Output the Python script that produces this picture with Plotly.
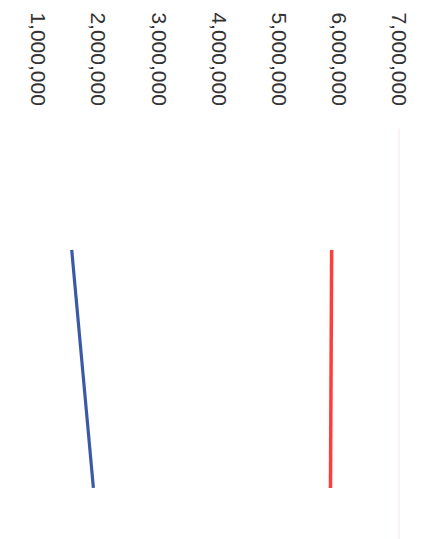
import plotly.graph_objects as go

# Data
periods = [0, 1]
series_red = [5880000, 5860000]
series_blue = [1560000, 1920000]
tick_values = [1000000, 2000000, 3000000, 4000000, 5000000, 6000000, 7000000]
tick_labels = ["1,000,000", "2,000,000", "3,000,000", "4,000,000",
               "5,000,000", "6,000,000", "7,000,000"]

fig = go.Figure()
fig.add_trace(go.Scatter(x=series_red, y=periods, mode="lines",
                         line=dict(color="#ff3d3d", width=3.5), showlegend=False))
fig.add_trace(go.Scatter(x=series_blue, y=periods, mode="lines",
                         line=dict(color="#3b5aa6", width=3.2), showlegend=False))

fig.add_vline(x=tick_values[-1], line=dict(color="#fbe4e6", width=1), y0=0, y1=0.98)

fig.update_layout(
    width=425, height=539,
    margin=dict(l=0, r=0, t=112, b=0),
    paper_bgcolor="white", plot_bgcolor="white",
    xaxis=dict(range=[501000, 7564000], side="top", tickvals=tick_values,
               ticktext=tick_labels, tickangle=90, showgrid=False, zeroline=False,
               showline=False, ticks="", automargin=False, ticklabelstandoff=10,
               tickfont=dict(family="Liberation Sans", size=21, color="#333333")),
    yaxis=dict(range=[1.248, -0.546], visible=False, showgrid=False, zeroline=False),
)

fig.write_html("out.html")
